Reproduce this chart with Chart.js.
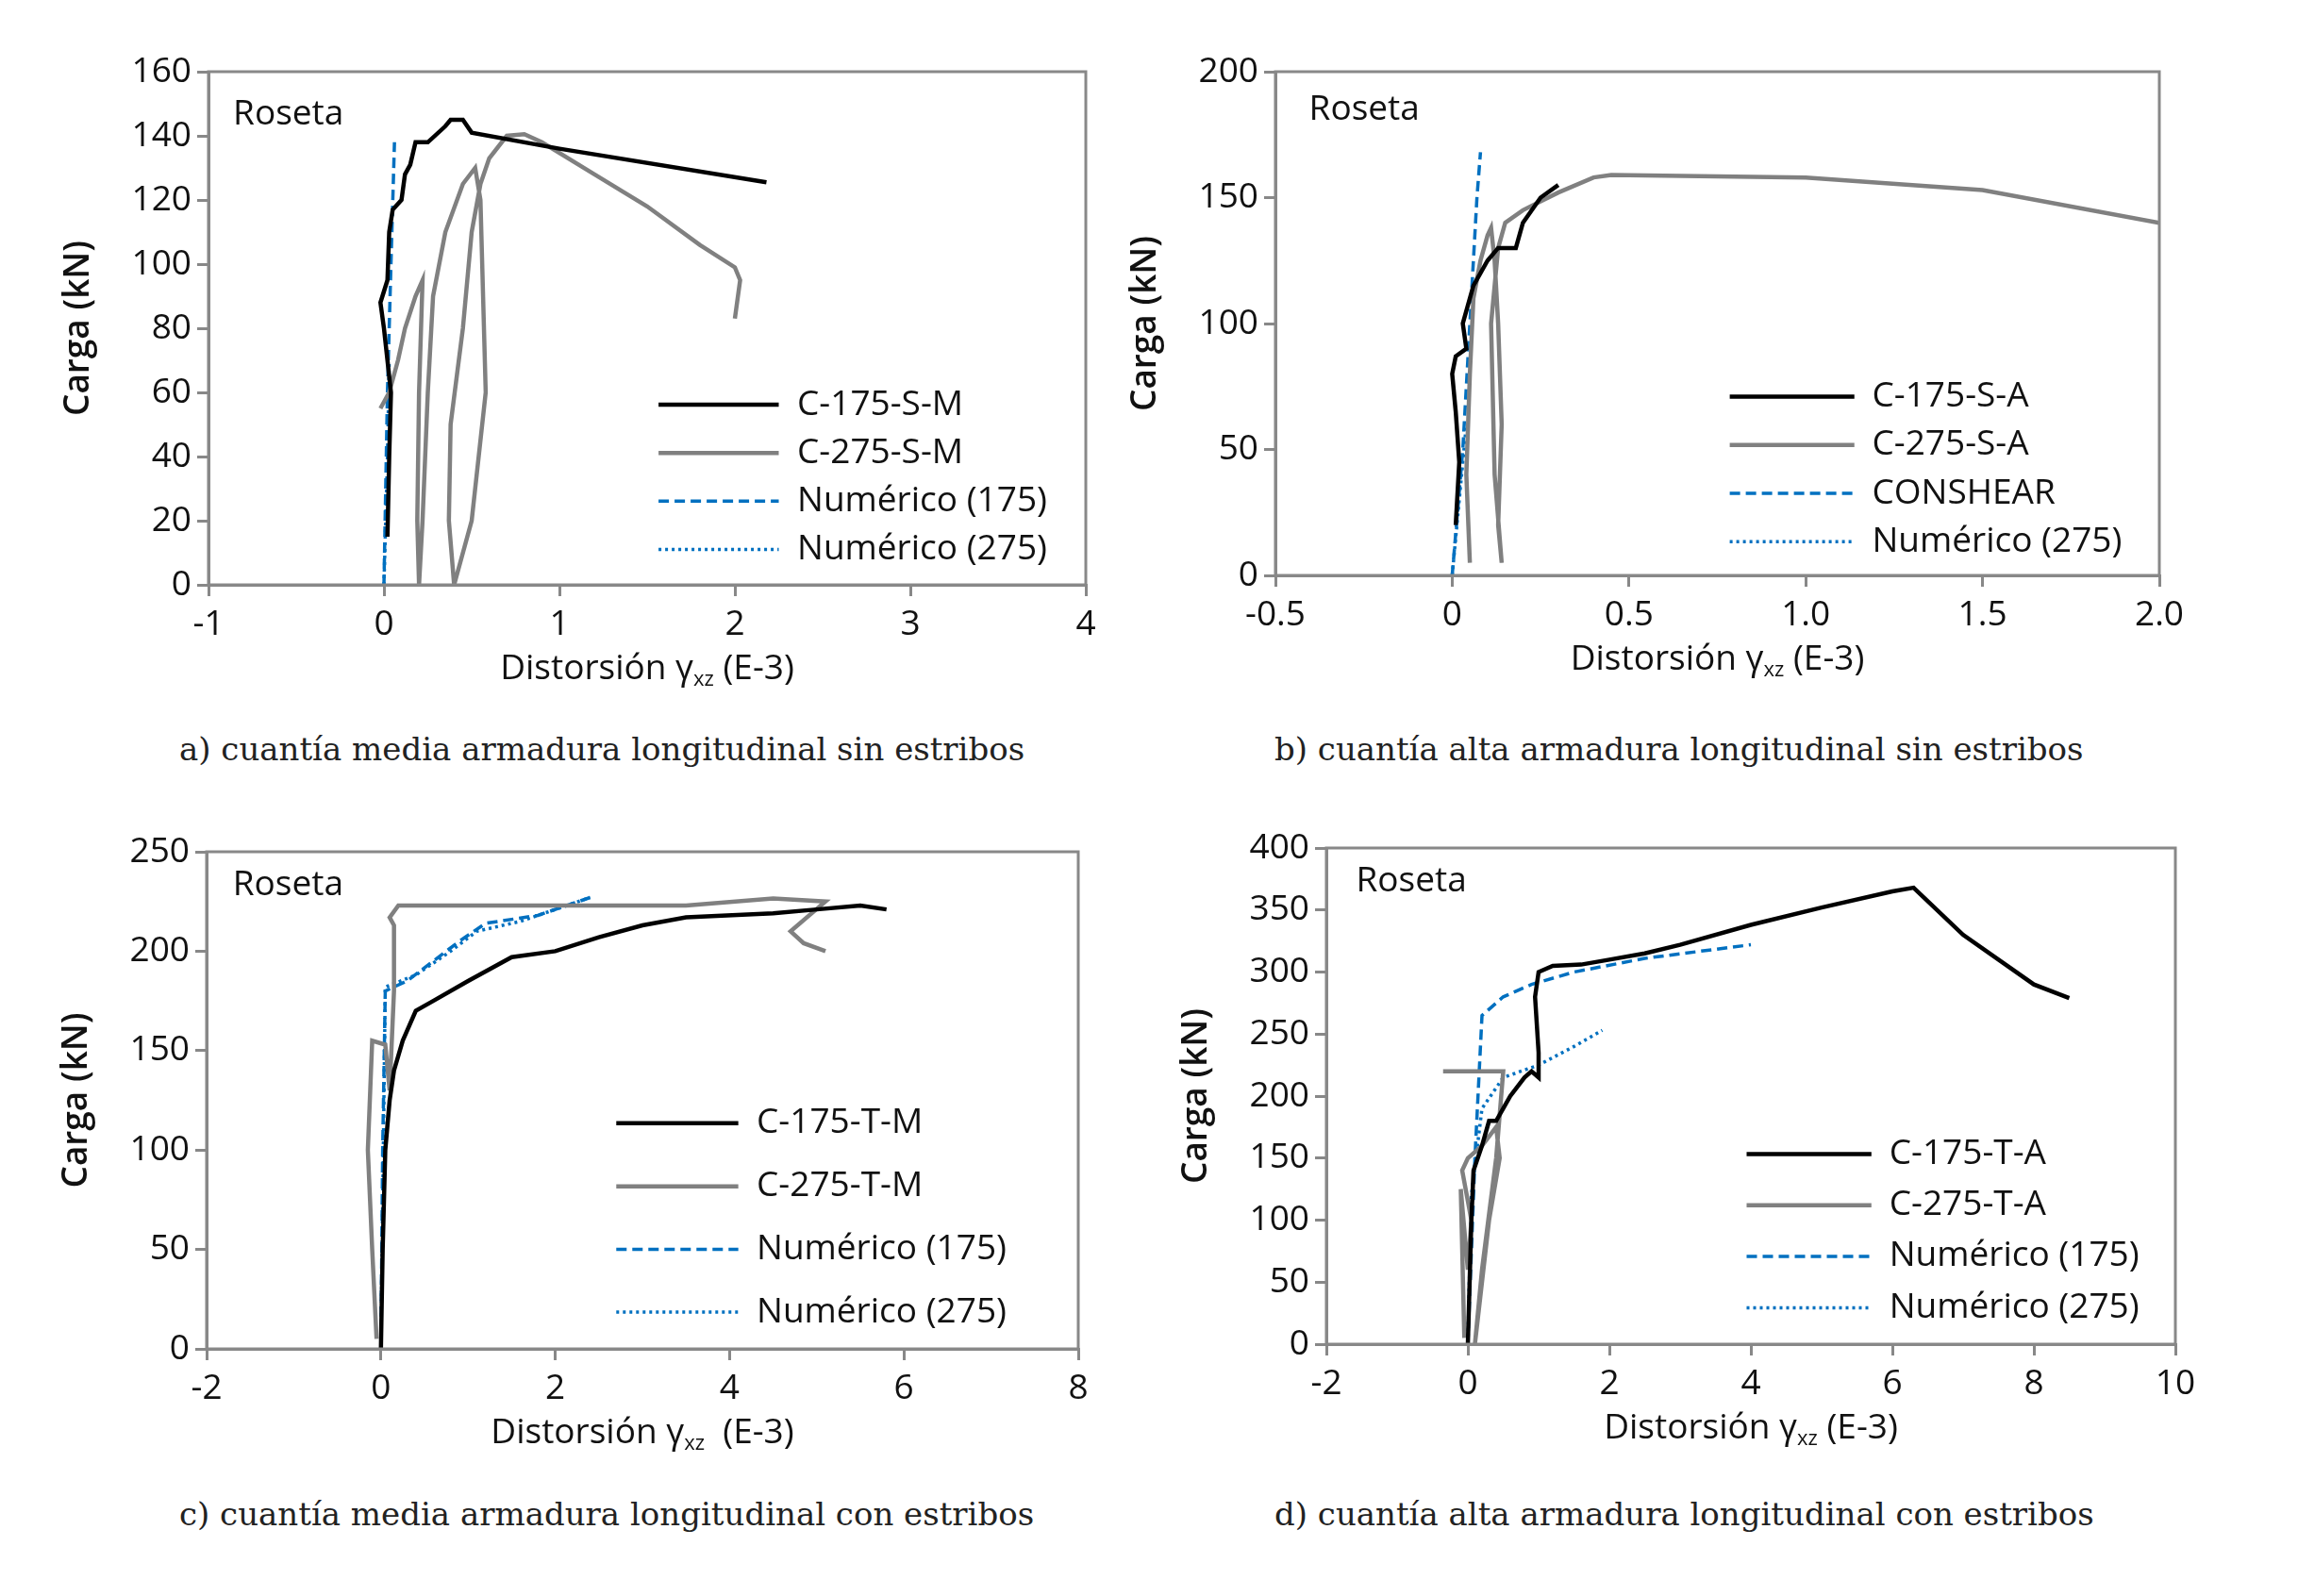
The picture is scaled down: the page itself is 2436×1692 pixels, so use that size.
<!DOCTYPE html>
<html><head><meta charset="utf-8">
<script src="https://cdn.jsdelivr.net/npm/chart.js@4"></script>
<style>
body{margin:0;background:#fff;width:2436px;height:1692px;position:relative;overflow:hidden}
.box{position:absolute}
.cap{position:absolute;font-family:"DejaVu Serif","Liberation Serif",serif;font-size:34px;color:#222;white-space:nowrap}
</style></head><body>
<div class="box" id="ba"><canvas id="ca"></canvas></div>
<div class="box" id="bb"><canvas id="cb"></canvas></div>
<div class="box" id="bc"><canvas id="cc"></canvas></div>
<div class="box" id="bd"><canvas id="cd"></canvas></div>
<div class="cap" style="left:190px;top:774px">a) cuantía media armadura longitudinal sin estribos</div>
<div class="cap" style="left:1351px;top:774px">b) cuantía alta armadura longitudinal sin estribos</div>
<div class="cap" style="left:190px;top:1585px">c) cuantía media armadura longitudinal con estribos</div>
<div class="cap" style="left:1351px;top:1585px">d) cuantía alta armadura longitudinal con estribos</div>
<script>
// panel a
const a175 = [[0.02,15],[0.03,40],[0.04,60],[0.02,70],[0,80],[-0.02,88],[0.02,95],[0.03,110],[0.05,117],[0.1,120],[0.12,128],[0.15,131],[0.18,138],[0.25,138],[0.35,143],[0.38,145],[0.45,145],[0.5,141],[1,136],[2.18,125.5]];
const a275 = [[-0.02,55],[0.03,60],[0.08,70],[0.12,80],[0.18,90],[0.22,95],[0.2,60],[0.19,20],[0.2,0],[0.22,20],[0.25,60],[0.28,90],[0.35,110],[0.45,125],[0.52,130],[0.55,120],[0.58,60],[0.5,20],[0.4,0],[0.37,20],[0.38,50],[0.45,80],[0.5,110],[0.55,125],[0.6,133],[0.7,140],[0.8,140.5],[0.9,138],[1.2,128],[1.5,118],[1.8,106],[2.0,99],[2.03,95],[2,83]];
const aNum175 = [[0,0],[0.02,60],[0.04,100],[0.06,138]];
const aNum275 = [[0,0],[0.02,40],[0.03,70]];
// panel b
const b175 = [[0.01,20],[0.02,45],[0.01,65],[0,80],[0.01,87],[0.04,90],[0.03,100],[0.06,115],[0.1,125],[0.13,130],[0.18,130],[0.2,140],[0.25,150],[0.3,155]];
const b275 = [[0.05,5],[0.04,40],[0.05,80],[0.06,110],[0.08,125],[0.1,135],[0.11,138],[0.12,125],[0.13,100],[0.14,60],[0.13,20],[0.14,5],[0.12,40],[0.11,100],[0.13,130],[0.15,140],[0.2,145],[0.3,152],[0.4,158],[0.45,159],[1,158],[1.5,153],[2,140]];
const bConshear = [[0,0],[0.03,50],[0.05,100],[0.07,150],[0.08,168]];
const bNum275 = [[0,0],[0.02,30],[0.04,60]];
// panel c
const c175 = [[0,0],[0.02,50],[0.05,100],[0.1,125],[0.15,140],[0.25,155],[0.4,170],[0.6,175],[1,185],[1.5,197],[2,200],[2.5,207],[3,213],[3.5,217],[4.5,219],[5,221],[5.5,223],[5.8,221]];
const c275 = [[-0.05,5],[-0.1,50],[-0.15,100],[-0.1,155],[0.05,153],[0.1,130],[0.15,180],[0.15,213],[0.1,217],[0.2,223],[3.5,223],[4.5,226.5],[5.1,225],[4.7,210],[4.85,204],[5.1,200]];
const cNum175 = [[0,0],[0.02,100],[0.05,180],[0.3,185],[0.6,195],[0.9,205],[1.2,214],[1.8,218],[2.4,227]];
const cNum275 = [[0,0],[0.05,182],[0.4,188],[0.8,200],[1.1,210],[1.6,215],[2.4,227]];
// panel d
const d175 = [[0,0],[0.03,60],[0.05,100],[0.08,140],[0.2,160],[0.3,180],[0.4,180],[0.5,190],[0.6,200],[0.8,215],[0.9,220],[1,215],[1,235],[0.95,280],[1,300],[1.2,305],[1.6,306],[2,310],[2.5,315],[3,322],[4,338],[5,352],[6,365],[6.3,368],[7,330],[8,290],[8.5,279]];
const d275 = [[-0.05,5],[-0.1,125],[0,60],[0.05,100],[-0.08,140],[0,150],[0.2,160],[0.4,175],[0.45,150],[0.3,100],[0.1,0],[0.2,60],[0.4,150],[0.5,220],[-0.35,220]];
const dNum175 = [[0,0],[0.1,150],[0.2,265],[0.5,280],[0.9,290],[1.5,300],[2.5,311],[4,322]];
const dNum275 = [[0,0],[0.05,120],[0.2,190],[0.5,215],[1,225],[1.5,240],[1.9,253]];

const FONT = '"Open Sans", "Noto Sans", sans-serif';
const FS = 37;
const YW = 160, XH = 125, PT = 30, PR = 40;

const styles = [
  {borderColor:'#000', borderWidth:4.5},
  {borderColor:'#808080', borderWidth:4.5},
  {borderColor:'#0070C0', borderWidth:3.5, borderDash:[11,6]},
  {borderColor:'#0070C0', borderWidth:3.5, borderDash:[3,4]}
];

const decor = {
  id:'decor',
  afterDraw(chart){
    const o = chart.options.plugins.decor, a = chart.chartArea, ctx = chart.ctx;
    ctx.save();
    ctx.strokeStyle = '#888'; ctx.lineWidth = 3;
    ctx.strokeRect(a.left, a.top, a.right-a.left, a.bottom-a.top);
    const W = a.right-a.left, H = a.bottom-a.top;
    ctx.font = FS+'px ' + FONT; ctx.fillStyle = '#111'; ctx.textBaseline = 'middle';
    ctx.fillText('Roseta', a.left + o.ros[0]*W, a.top + o.ros[1]*H);
    chart.data.datasets.forEach((ds,i)=>{
      const y = a.top + o.rows[i]*H;
      ctx.beginPath(); ctx.strokeStyle = ds.borderColor; ctx.lineWidth = ds.borderWidth;
      ctx.setLineDash(ds.borderDash || []);
      ctx.moveTo(a.left+o.line[0]*W, y); ctx.lineTo(a.left+o.line[1]*W, y); ctx.stroke();
      ctx.setLineDash([]);
      ctx.fillStyle = '#111';
      ctx.fillText(ds.label, a.left+o.line[2]*W, y);
    });
    // x axis title with subscript
    const cx = (a.left+a.right)/2, ty = a.bottom + 100;
    const p1 = 'Distorsión γ', p2 = 'xz', p3 = o.gap ? '  (E-3)' : ' (E-3)';
    ctx.font = FS+'px ' + FONT; const w1 = ctx.measureText(p1).width, w3 = ctx.measureText(p3).width;
    ctx.font = '22px ' + FONT; const w2 = ctx.measureText(p2).width;
    let x = cx - (w1+w2+w3)/2;
    ctx.textBaseline = 'alphabetic';
    ctx.font = FS+'px ' + FONT; ctx.fillText(p1, x, ty); x += w1;
    ctx.font = '22px ' + FONT; ctx.fillText(p2, x, ty+7); x += w2;
    ctx.font = FS+'px ' + FONT; ctx.fillText(p3, x, ty);
    ctx.restore();
  }
};

function panel(id, boxId, area, sets, labels, xr, yr, dec){
  const box = document.getElementById(boxId);
  box.style.left = (area[0]-YW)+'px'; box.style.top = (area[1]-PT)+'px';
  box.style.width = (area[2]+YW+PR)+'px'; box.style.height = (area[3]+PT+XH)+'px';
  const tickFont = {family:FONT, size:FS};
  new Chart(document.getElementById(id), {
    type:'scatter',
    data:{datasets: sets.map((s,i)=>Object.assign({
      label: labels[i], data: s.map(p=>({x:p[0], y:p[1]})),
      showLine:true, pointRadius:0, fill:false, tension:0
    }, styles[i]))},
    options:{
      responsive:true, maintainAspectRatio:false, animation:false,
      layout:{padding:{top:PT, right:PR}},
      plugins:{legend:{display:false}, tooltip:{enabled:false}, decor:dec},
      scales:{
        x:{type:'linear', min:xr[0], max:xr[1], ticks:{stepSize:xr[2], color:'#111', font:tickFont, padding:8},
           grid:{drawOnChartArea:false, color:'#888', lineWidth:3, tickLength:12}, border:{color:'#888', width:3},
           afterFit(s){ s.height = XH; }},
        y:{type:'linear', min:yr[0], max:yr[1], ticks:{stepSize:yr[2], color:'#111', font:tickFont, padding:6},
           grid:{drawOnChartArea:false, color:'#888', lineWidth:3, tickLength:12}, border:{color:'#888', width:3},
           title:{display:true, text:'Carga (kN)', color:'#111', font:{family:FONT, size:FS, weight:'600'}, padding:0},
           afterFit(s){ s.width = YW; }}
      }
    },
    plugins:[decor]
  });
}

panel('ca','ba',[221,76,930,544],[a175,a275,aNum175,aNum275],['C-175-S-M','C-275-S-M','Numérico (175)','Numérico (275)'],[-1,4,1],[0,160,20],
  {ros:[0.028,0.083], rows:[0.649,0.743,0.837,0.931], line:[0.513,0.65,0.671]});
panel('cb','bb',[1352,76,937,534],[b175,b275,bConshear,bNum275],['C-175-S-A','C-275-S-A','CONSHEAR','Numérico (275)'],[-0.5,2,0.5],[0,200,50],
  {ros:[0.038,0.076], rows:[0.645,0.741,0.837,0.933], line:[0.514,0.655,0.675]});
panel('cc','bc',[219,903,924,527],[c175,c275,cNum175,cNum275],['C-175-T-M','C-275-T-M','Numérico (175)','Numérico (275)'],[-2,8,2],[0,250,50],
  {ros:[0.03,0.068], rows:[0.546,0.673,0.8,0.926], line:[0.47,0.61,0.631], gap:true});
panel('cd','bd',[1406,899,900,526],[d175,d275,dNum175,dNum275],['C-175-T-A','C-275-T-A','Numérico (175)','Numérico (275)'],[-2,10,2],[0,400,50],
  {ros:[0.035,0.068], rows:[0.617,0.72,0.823,0.927], line:[0.495,0.642,0.663]});
</script>
</body></html>
